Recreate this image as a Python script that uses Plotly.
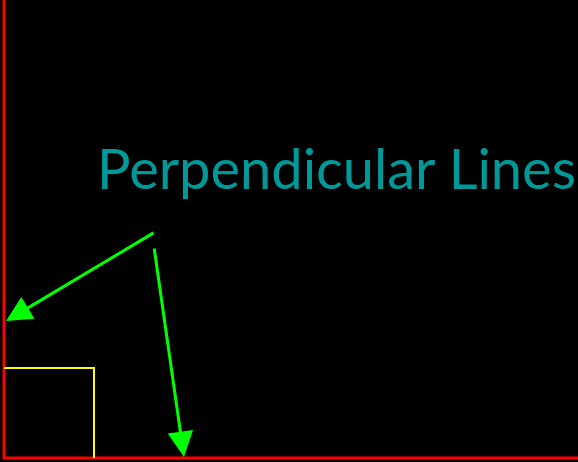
import plotly.graph_objects as go

# diagram coordinates in pixels (origin top-left)
axis_x = [4, 4, 578]
axis_y = [0, 458, 458]
square_x = [4, 94, 94]
square_y = [368, 368, 458]
arrow_tail_x = [155, 154]
arrow_tail_y = [232, 247]
arrow_head_x = [6, 184]
arrow_head_y = [321, 457]
title = "Perpendicular Lines"

fig = go.Figure()
fig.add_trace(go.Scatter(x=axis_x, y=axis_y, mode="lines",
                         line=dict(color="#ff0000", width=3), hoverinfo="skip"))
fig.add_trace(go.Scatter(x=square_x, y=square_y, mode="lines",
                         line=dict(color="#ffff00", width=2), hoverinfo="skip"))

for tx, ty, hx, hy in zip(arrow_tail_x, arrow_tail_y, arrow_head_x, arrow_head_y):
    fig.add_annotation(x=hx, y=hy, ax=tx, ay=ty, xref="x", yref="y",
                       axref="x", ayref="y", text="", showarrow=True,
                       arrowhead=2, arrowsize=1.7, arrowwidth=3,
                       arrowcolor="#00ff00")

fig.add_annotation(x=336, y=167, xref="x", yref="y", text=title,
                   showarrow=False,
                   font=dict(family="Comic Sans MS, Lato", size=56, color="#009999"))

fig.update_layout(
    width=578, height=462,
    margin=dict(l=0, r=0, t=0, b=0),
    paper_bgcolor="black", plot_bgcolor="black",
    showlegend=False,
    xaxis=dict(range=[0, 578], visible=False, fixedrange=True),
    yaxis=dict(range=[462, 0], visible=False, fixedrange=True),
)

fig.write_html("out.html", config={"displayModeBar": False},
               post_script="document.body.style.margin='0';document.body.style.background='black';")
